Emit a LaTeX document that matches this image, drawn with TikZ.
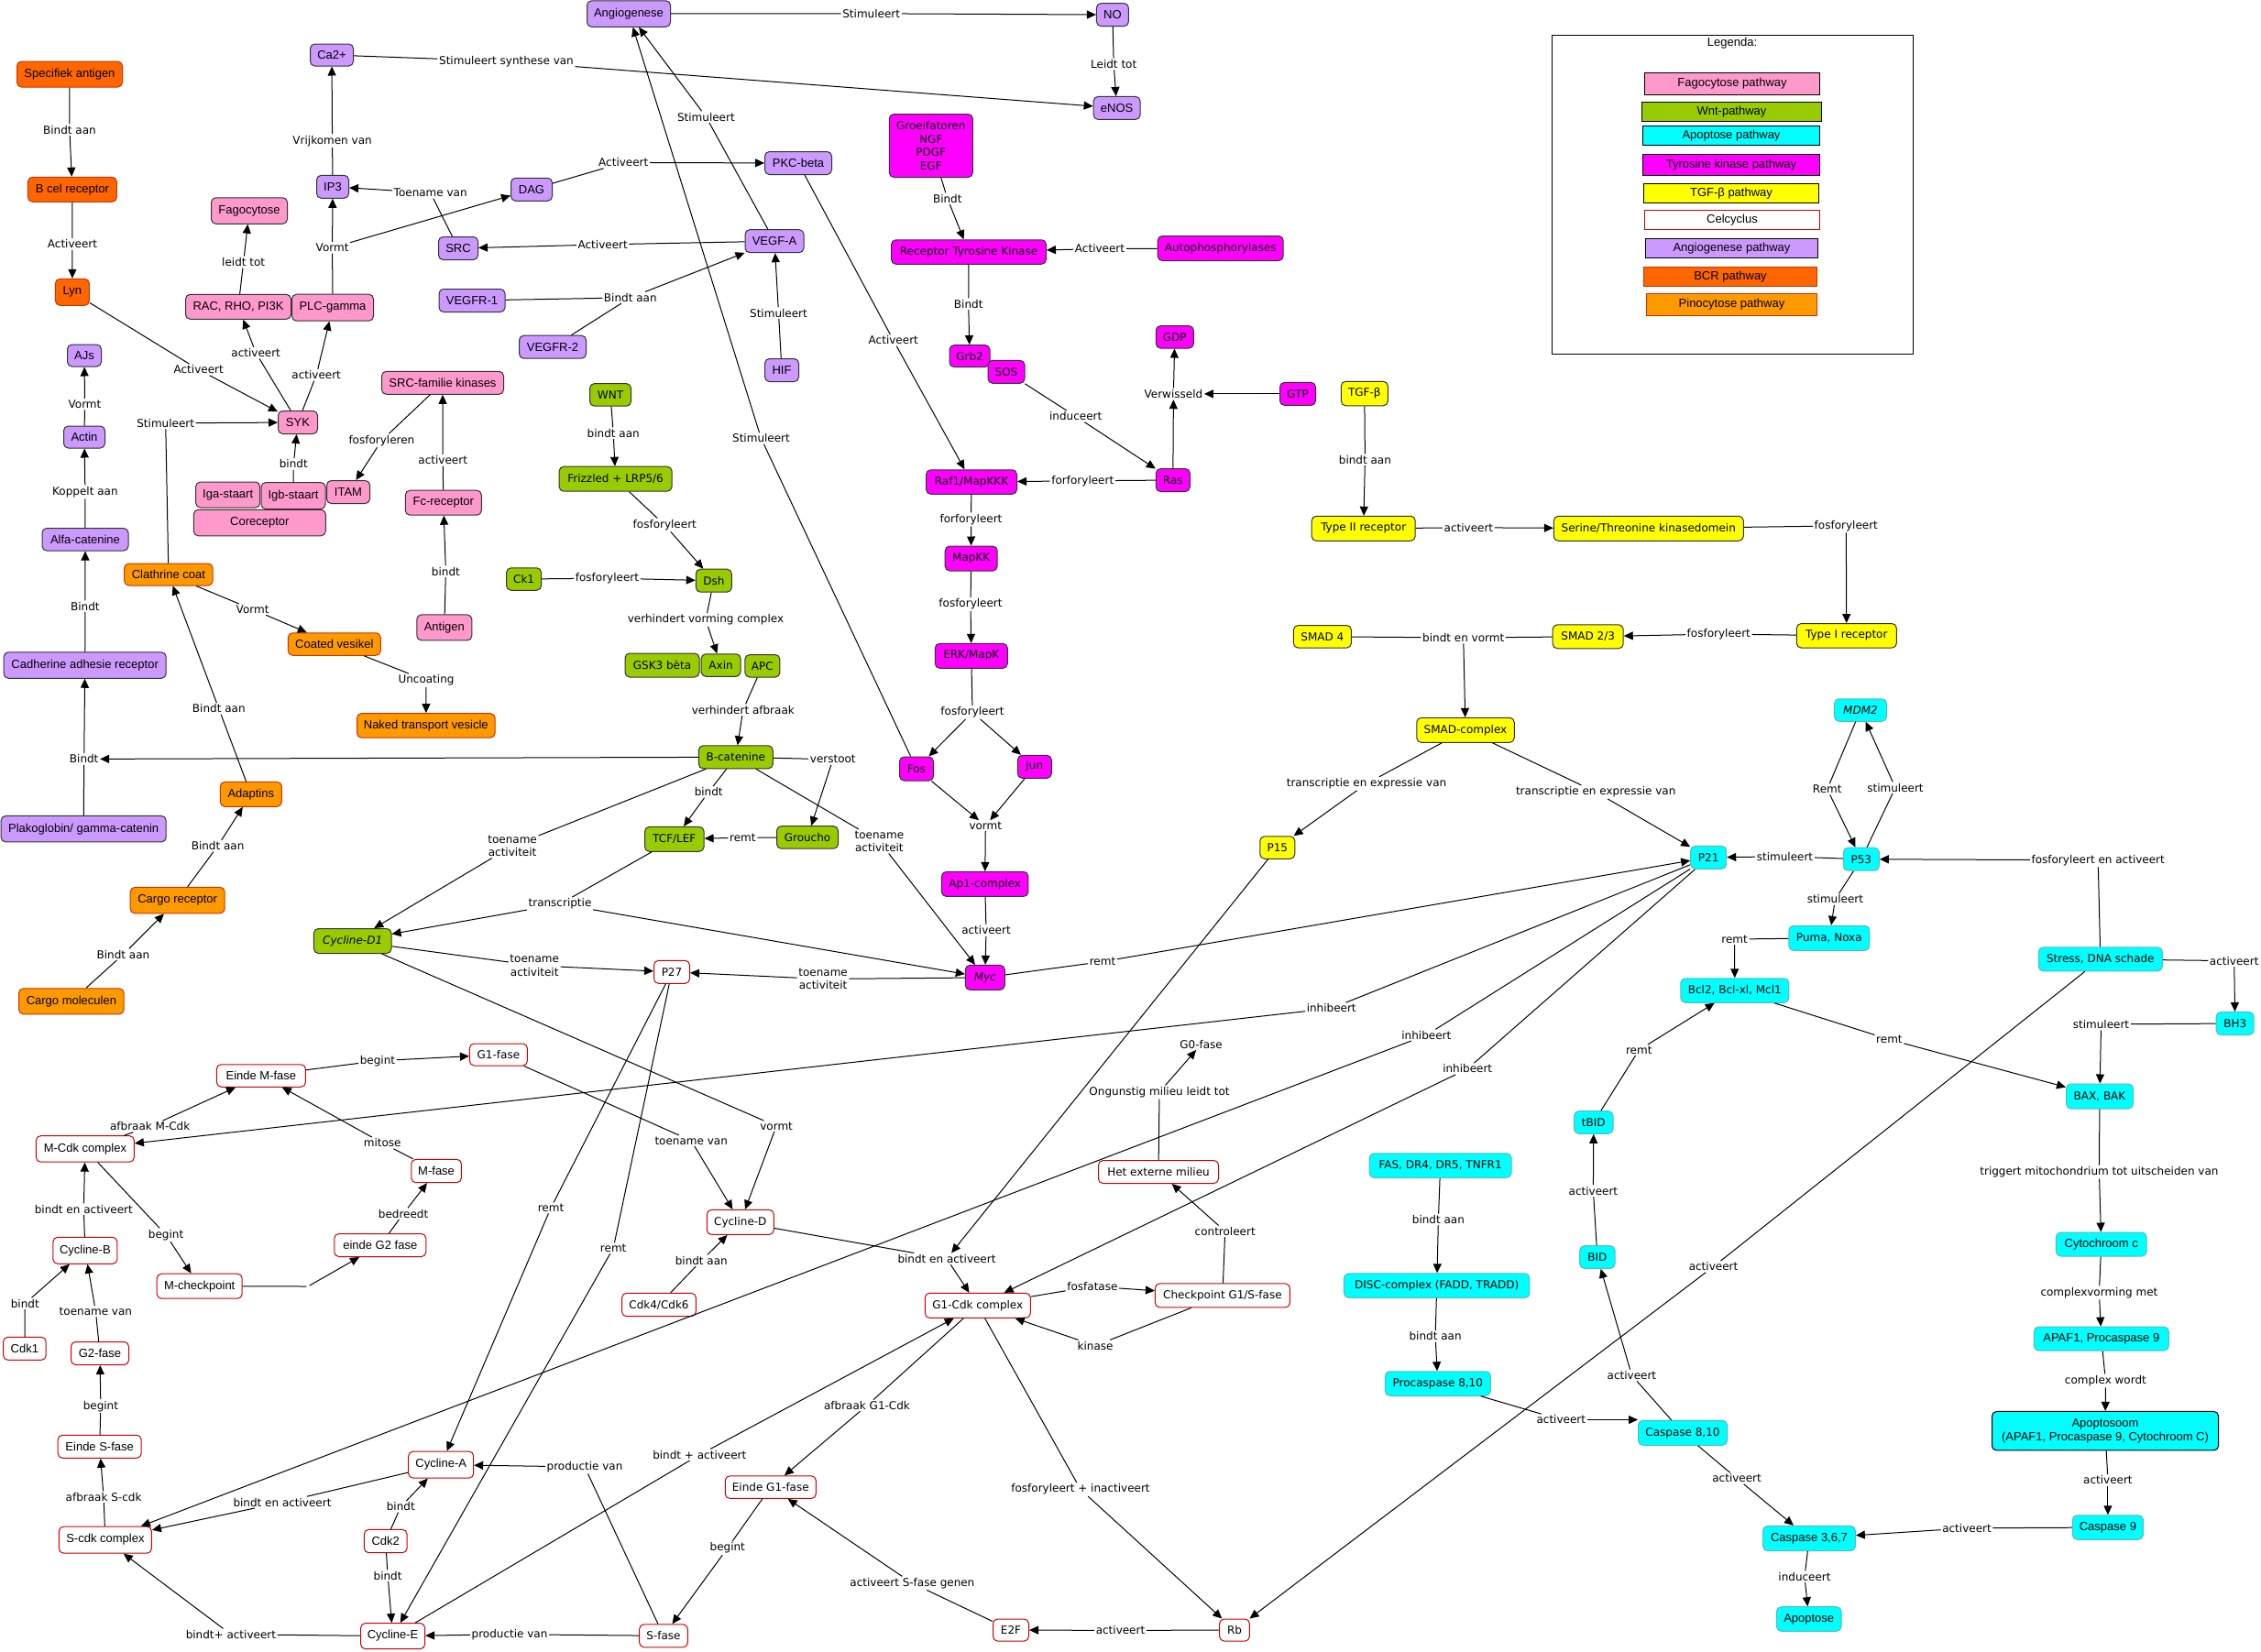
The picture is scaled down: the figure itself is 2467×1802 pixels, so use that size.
\documentclass[tikz,border=0pt]{standalone}
\usepackage{fontspec}
\setmainfont{DejaVu Sans}
\newfontfamily\arialf{Liberation Sans}
\usetikzlibrary{arrows.meta}
\definecolor{cBCR}{HTML}{FF6600}
\definecolor{cBCRb}{HTML}{CC3300}
\definecolor{cPino}{HTML}{FF9900}
\definecolor{cFago}{HTML}{FF99CC}
\definecolor{cAngio}{HTML}{CC99FF}
\definecolor{cWnt}{HTML}{99CC00}
\definecolor{cTK}{HTML}{FF00FF}
\definecolor{cTGF}{HTML}{FFFF00}
\definecolor{cApo}{HTML}{00FFFF}
\definecolor{cApob}{HTML}{55BBBB}
\definecolor{cCC}{HTML}{CC0000}
\definecolor{cDark}{HTML}{333333}
\newcommand\mynode[7]{\node[#1,minimum width=#5pt,minimum height=#6pt] (#2) at (#3,#4) {#7};}
\newcommand\mylab[4]{\node[sLab] (#1) at (#2,#3) {#4};}
\newcommand\myL[3]{\draw[sLn] (#1) -- (#2); \draw[sArr] (#2) -- (#3);}
\newcommand\myP[2]{\draw[sLn] (#1) -- (#2);}
\newcommand\myA[2]{\draw[sArr] (#1) -- (#2);}
\begin{document}
\begin{tikzpicture}[x=1pt,y=-1pt,
 sBase/.style={draw, rounded corners=5pt, line width=1pt, inner sep=2pt, align=center},
 fA/.style={font=\arialf\fontsize{13}{15}\selectfont},
 fV/.style={font=\fontsize{12}{14.8}\selectfont},
 sBcr/.style={sBase,fA,fill=cBCR,draw=cBCRb},
 sPino/.style={sBase,fA,fill=cPino,draw=cBCRb},
 sFago/.style={sBase,fA,fill=cFago,draw=cDark},
 sAngio/.style={sBase,fA,fill=cAngio,draw=cDark},
 sWnt/.style={sBase,fV,fill=cWnt,draw=cDark},
 sTk/.style={sBase,fV,fill=cTK,draw=cDark},
 sTgf/.style={sBase,fV,fill=cTGF,draw=cDark},
 sApo/.style={sBase,fV,fill=cApo,draw=cApob},
 sApoA/.style={sBase,fA,fill=cApo,draw=cApob},
 sCc/.style={sBase,fV,fill=white,draw=cCC},
 sCcA/.style={sBase,fA,fill=white,draw=cCC},
 sLab/.style={inner sep=1.5pt, align=center, font=\fontsize{12}{14.6}\selectfont},
 sLn/.style={line width=1pt},
 sArr/.style={line width=1pt, -{Triangle[length=10pt,width=9pt]}},
 sLeg/.style={draw, line width=1.2pt, fA, inner sep=1pt},
]
\fill[white] (0,0) rectangle (2467,1802);
\useasboundingbox (0,0) rectangle (2467,1802);

% ---------- Legend ----------
\draw[line width=1pt] (1693.5,38.1) rectangle (2087.4,386.3);
\node[fA] (legt) at (1890,47.1) {Legenda:};
\node[sLeg,fill=cFago,minimum width=191pt,minimum height=24pt] (lg1) at (1890,91.4) {Fagocytose pathway};
\node[sLeg,fill=cWnt,minimum width=196pt,minimum height=21pt] (lg2) at (1889.5,122.2) {Wnt-pathway};
\node[sLeg,fill=cApo,minimum width=193pt,minimum height=21pt] (lg3) at (1889,147.8) {Apoptose pathway};
\node[sLeg,fill=cTK,minimum width=193pt,minimum height=23pt] (lg4) at (1889,180) {Tyrosine kinase pathway};
\node[sLeg,fill=cTGF,minimum width=191pt,minimum height=21pt] (lg5) at (1889,210.9) {TGF-β pathway};
\node[sLeg,fill=white,draw=cCC,minimum width=191pt,minimum height=21pt] (lg6) at (1890,240) {Celcyclus};
\node[sLeg,fill=cAngio,minimum width=188pt,minimum height=21pt] (lg7) at (1889.5,270.8) {Angiogenese pathway};
\node[sLeg,fill=cBCR,draw=cBCRb,minimum width=189pt,minimum height=21pt] (lg8) at (1888,301.9) {BCR pathway};
\node[sLeg,fill=cPino,draw=cBCRb,minimum width=186pt,minimum height=24pt] (lg9) at (1889.5,332.6) {Pinocytose pathway};

% ---------- BCR ----------
\mynode{sBcr}{sa}{76}{81}{115}{28}{Specifiek antigen}
\mynode{sBcr}{bcr}{78.9}{206.8}{97}{27}{B cel receptor}
\mynode{sBcr}{lyn}{78.9}{318.8}{37}{29}{Lyn}

% ---------- Angiogenese ----------
\mynode{sAngio}{ca}{362}{60}{47}{24}{Ca2+}
\mynode{sAngio}{ip3}{363}{203.8}{35}{25}{IP3}
\mynode{sAngio}{dag}{580}{206.8}{45}{25}{DAG}
\mynode{sAngio}{src}{500}{271}{43}{25}{SRC}
\mynode{sAngio}{vegfr1}{515}{328}{72}{25}{VEGFR-1}
\mynode{sAngio}{vegfr2}{603}{378.7}{73}{25}{VEGFR-2}
\mynode{sAngio}{vegfa}{845}{263.2}{64}{25}{VEGF-A}
\mynode{sAngio}{hif}{853}{404}{37}{25}{HIF}
\mynode{sAngio}{pkc}{871}{178}{73}{25}{PKC-beta}
\mynode{sAngio}{angio}{686}{15}{91}{28.5}{Angiogenese}
\mynode{sAngio}{no}{1213.9}{16.1}{35}{25}{NO}
\mynode{sAngio}{enos}{1218.6}{117.9}{51}{25}{eNOS}
\mynode{sAngio}{ajs}{92}{388}{37}{24}{AJs}
\mynode{sAngio}{actin}{92}{477}{45}{24}{Actin}
\mynode{sAngio}{alfa}{93}{588.8}{94}{24.5}{Alfa-catenine}
\mynode{sAngio}{cadh}{92.7}{726}{177}{28.5}{Cadherine adhesie receptor}
\mynode{sAngio}{plako}{91.2}{904.7}{180}{28.5}{Plakoglobin/ gamma-catenin}

% ---------- Fagocytose ----------
\mynode{sFago}{fago}{272}{230}{83}{28.5}{Fagocytose}
\mynode{sFago}{rac}{260}{334.8}{115}{27}{RAC, RHO, PI3K}
\mynode{sFago}{plc}{363}{335.7}{89}{29}{PLC-gamma}
\mynode{sFago}{syk}{325}{461}{43}{25}{SYK}
\mynode{sFago}{srcf}{483}{417.8}{133}{25}{SRC-familie kinases}
\mynode{sFago}{iga}{248.7}{540}{70}{28}{Iga-staart}
\mynode{sFago}{igb}{320}{541}{70}{29}{Igb-staart}
\mynode{sFago}{itam}{380}{537}{47}{25}{ITAM}
\mynode{sFago}{corec}{283.3}{570.5}{144}{28.5}{Coreceptor}
\mynode{sFago}{fc}{483.8}{548.7}{83}{27}{Fc-receptor}
\mynode{sFago}{antigen}{484.8}{684.9}{60}{28}{Antigen}

% ---------- Pinocytose ----------
\mynode{sPino}{clath}{183.9}{627}{96.5}{24}{Clathrine coat}
\mynode{sPino}{coated}{364.8}{703}{101}{24.5}{Coated vesikel}
\mynode{sPino}{naked}{464.8}{791.9}{150.6}{26.5}{Naked transport vesicle}
\mynode{sPino}{adapt}{273.8}{866.8}{67}{27}{Adaptins}
\mynode{sPino}{cargor}{193.7}{982.6}{103}{28.5}{Cargo receptor}
\mynode{sPino}{cargom}{77.9}{1092.8}{114.6}{28}{Cargo moleculen}

% ---------- Wnt ----------
\mynode{sWnt}{wnt}{666}{430.9}{45}{24.5}{WNT}
\mynode{sWnt}{friz}{671.6}{522.7}{123}{27}{Frizzled + LRP5/6}
\mynode{sWnt}{ck1}{571.6}{632}{38}{24.5}{Ck1}
\mynode{sWnt}{dsh}{778.8}{633.7}{39}{25}{Dsh}
\mynode{sWnt}{gsk}{722.5}{726}{81}{26}{GSK3 bèta}
\mynode{sWnt}{axin}{786.6}{726}{43}{24.5}{Axin}
\mynode{sWnt}{apc}{831.9}{726.8}{38}{24.5}{APC}
\mynode{sWnt}{bcat}{802.8}{826.3}{81}{25}{B-catenine}
\mynode{sWnt}{tcf}{735.8}{915.8}{64.5}{27}{TCF/LEF}
\mynode{sWnt}{grou}{881}{913.9}{67}{24.5}{Groucho}
\mynode{sWnt}{cyd1}{384.7}{1027}{84.6}{27}{\itshape Cycline-D1}

% ---------- Tyrosine kinase ----------
\mynode{sTk}{groei}{1015.8}{159}{91}{69}{Groeifatoren\\NGF\\PDGF\\EGF}
\mynode{sTk}{rtk}{1057}{275}{169}{26.5}{Receptor Tyrosine Kinase}
\mynode{sTk}{autop}{1331.7}{271}{137}{27}{Autophosphorylases}
\mynode{sTk}{grb2}{1058}{388.6}{44}{24}{Grb2}
\mynode{sTk}{sos}{1098}{405.8}{40}{25}{SOS}
\mynode{sTk}{gdp}{1281.8}{367.8}{41}{24.5}{GDP}
\mynode{sTk}{gtp}{1416}{429.9}{39}{25}{GTP}
\mynode{sTk}{ras}{1279.8}{524}{37}{25}{Ras}
\mynode{sTk}{raf}{1060}{526}{99}{26.5}{Raf1/MapKKK}
\mynode{sTk}{mapkk}{1059.7}{609.5}{57}{27}{MapKK}
\mynode{sTk}{erk}{1059.8}{715.8}{79}{27}{ERK/MapK}
\mynode{sTk}{fos}{1000}{839}{37}{26}{Fos}
\mynode{sTk}{jun}{1128.8}{836.8}{37}{25}{Jun}
\mynode{sTk}{ap1}{1074.7}{964.9}{94.5}{27}{Ap1-complex}
\mynode{sTk}{myc}{1074.8}{1066.9}{43}{27}{\itshape Myc}

% ---------- TGF-beta ----------
\mynode{sTgf}{tgfb}{1488.8}{429.5}{51}{26.5}{TGF-β}
\mynode{sTgf}{t2}{1487.7}{576.8}{113}{27}{Type II receptor}
\mynode{sTgf}{ser}{1798.8}{576.8}{207}{27}{Serine/Threonine kinasedomein}
\mynode{sTgf}{t1}{2014.8}{693.8}{109}{26.5}{Type I receptor}
\mynode{sTgf}{smad4}{1442.9}{694.8}{63}{24.5}{SMAD 4}
\mynode{sTgf}{smad23}{1732.7}{694.8}{77}{26}{SMAD 2/3}
\mynode{sTgf}{smadc}{1599}{796.8}{106.5}{27}{SMAD-complex}
\mynode{sTgf}{p15}{1393.8}{925}{38}{24.5}{P15}

% ---------- Apoptose ----------
\mynode{sApo}{p21}{1864.2}{935.8}{39}{25}{P21}
\mynode{sApo}{p53}{2030.8}{937.7}{39}{25}{P53}
\mynode{sApo}{mdm2}{2030}{775}{57}{24.5}{\itshape MDM2}
\mynode{sApo}{puma}{1995.8}{1023.8}{88}{27}{Puma, Noxa}
\mynode{sApo}{bcl2}{1892.8}{1081}{118}{26.5}{Bcl2, Bcl-xl, Mcl1}
\mynode{sApo}{stress}{2291.8}{1046.8}{135}{26}{Stress, DNA schade}
\mynode{sApo}{bh3}{2438.7}{1117}{41}{25}{BH3}
\mynode{sApo}{bax}{2291}{1196.5}{73}{27}{BAX, BAK}
\mynode{sApoA}{cyto}{2292.7}{1358}{98.6}{26}{Cytochroom c}
\mynode{sApoA}{apaf}{2292.8}{1461.1}{147}{26}{APAF1, Procaspase 9}
\node[sApoA,draw=black,minimum width=247pt,minimum height=42.5pt] (apopt) at (2297,1561.7) {Apoptosoom\\(APAF1, Procaspase 9, Cytochroom C)};
\mynode{sApoA}{casp9}{2299.9}{1667}{77}{26.5}{Caspase 9}
\mynode{sApoA}{casp3}{1974}{1679}{100.7}{27.3}{Caspase 3,6,7}
\mynode{sApoA}{apop}{1973.7}{1767}{70.6}{26.6}{Apoptose}
\mynode{sApo}{fas}{1571.6}{1272}{155}{26.5}{FAS, DR4, DR5, TNFR1}
\mynode{sApo}{disc}{1567.7}{1403.1}{202.5}{26.5}{DISC-complex (FADD, TRADD)}
\mynode{sApo}{proc}{1568.8}{1510}{115}{26.5}{Procaspase 8,10}
\mynode{sApo}{casp8}{1836}{1563.8}{97}{27}{Caspase 8,10}
\mynode{sApo}{bid}{1742.9}{1372}{38.4}{24.6}{BID}
\mynode{sApo}{tbid}{1738.8}{1225}{42.4}{24.6}{tBID}

% ---------- Celcyclus ----------
\mynode{sCc}{p27}{733}{1060.8}{39}{25}{P27}
\mynode{sCc}{g1f}{543.9}{1151}{63}{24}{G1-fase}
\mynode{sCcA}{emf}{284.9}{1174}{97}{24.5}{Einde M-fase}
\mynode{sCcA}{mcdk}{92.9}{1253.9}{107}{28.5}{M-Cdk complex}
\mynode{sCcA}{mf}{476.1}{1278}{54.6}{25.4}{M-fase}
\mynode{sCcA}{cycb}{92.9}{1364.8}{70}{29}{Cycline-B}
\mynode{sCcA}{eg2}{414.8}{1359}{100}{25}{einde G2 fase}
\mynode{sCcA}{mchk}{217.7}{1403.7}{93}{27}{M-checkpoint}
\mynode{sCcA}{cdk1}{26.9}{1471.8}{46.6}{25}{Cdk1}
\mynode{sCcA}{g2f}{109}{1477}{63}{25}{G2-fase}
\mynode{sCcA}{esf}{108.7}{1578.8}{91}{25}{Einde S-fase}
\mynode{sCcA}{cyca}{481.2}{1598.6}{71}{29}{Cycline-A}
\mynode{sCcA}{scdk}{114.9}{1680.6}{101}{29}{S-cdk complex}
\mynode{sCcA}{cdk2}{420.7}{1682}{46.6}{25.4}{Cdk2}
\mynode{sCcA}{cyce}{428.6}{1785.6}{70}{28}{Cycline-E}
\mynode{sCc}{cycd}{807.8}{1333.9}{73}{27}{Cycline-D}
\mynode{sCc}{cdk46}{719}{1424}{80.7}{25.4}{Cdk4/Cdk6}
\mynode{sCc}{g1cdk}{1066.8}{1424.8}{115}{27}{G1-Cdk complex}
\mynode{sCc}{eg1}{840.8}{1623.1}{99}{24.6}{Einde G1-fase}
\mynode{sCc}{sf}{724}{1785.3}{52.6}{25}{S-fase}
\mynode{sCc}{e2f}{1103}{1779}{39}{24}{E2F}
\mynode{sCc}{rb}{1347}{1779}{32.7}{24}{Rb}
\mynode{sCc}{hem}{1264}{1279}{131}{25}{Het externe milieu}
\mynode{sCc}{chk}{1333.9}{1413.9}{147}{26}{Checkpoint G1/S-fase}
\mylab{g0}{1310.6}{1139.6}{G0-fase}

% ---------- Labels ----------
\mylab{l1}{75.9}{141.6}{Bindt aan}
\mylab{l2}{79}{266.5}{Activeert}
\mylab{l3}{216.7}{403.4}{Activeert}
\mylab{l4}{279.2}{385.1}{activeert}
\mylab{l5}{345.2}{409.3}{activeert}
\mylab{l6}{265.7}{286}{leidt tot}
\mylab{l7}{362.6}{270.4}{Vormt}
\mylab{l8}{362.6}{153.7}{Vrijkomen van}
\mylab{l9}{469.7}{210.5}{Toename van}
\mylab{l10}{552.5}{66.9}{Stimuleert synthese van}
\mylab{l11}{950.7}{14.8}{Stimuleert}
\mylab{l12}{1215.2}{70}{Leidt tot}
\mylab{l13}{680.3}{177.4}{Activeert}
\mylab{l14}{770.4}{127.6}{Stimuleert}
\mylab{l15}{657.7}{266.9}{Activeert}
\mylab{l16}{687.8}{324.8}{Bindt aan}
\mylab{l17}{849.5}{341.6}{Stimuleert}
\mylab{l18}{974.8}{371.5}{Activeert}
\mylab{l19}{1033.8}{216.7}{Bindt}
\mylab{l20}{1200}{271.5}{Activeert}
\mylab{l21}{1056.7}{331.8}{Bindt}
\mylab{l22}{1173.7}{454.4}{induceert}
\mylab{l23}{1181.3}{524.8}{forforyleert}
\mylab{l24}{1280.4}{429.9}{Verwisseld}
\mylab{l25}{1059.5}{566.8}{forforyleert}
\mylab{l26}{1059}{659.6}{fosforyleert}
\mylab{l27}{1061}{777.4}{fosforyleert}
\mylab{l28}{1075.3}{901.2}{vormt}
\mylab{l29}{1076}{1015.5}{activeert}
\mylab{l30}{898.1}{1068.5}{toename\\activiteit}
\mylab{l31}{1203}{1049.5}{remt}
\mylab{l32}{830.5}{478.5}{Stimuleert}
\mylab{l33}{669.2}{472.7}{bindt aan}
\mylab{l34}{725.3}{573}{fosforyleert}
\mylab{l35}{662.5}{631.1}{fosforyleert}
\mylab{l36}{770}{676.6}{verhindert vorming complex}
\mylab{l37}{810.8}{774.7}{verhindert afbraak}
\mylab{l38}{908.8}{828.8}{verstoot}
\mylab{l39}{773.2}{864.4}{bindt}
\mylab{l40}{810.4}{914.2}{remt}
\mylab{l41}{959.4}{918.2}{toename\\activiteit}
\mylab{l42}{559.1}{923.3}{toename\\activiteit}
\mylab{l43}{611}{986.6}{transcriptie}
\mylab{l44}{583.2}{1053.8}{toename\\activiteit}
\mylab{l45}{91.7}{828.4}{Bindt}
\mylab{l46}{92.9}{661.6}{Bindt}
\mylab{l47}{92.9}{536.9}{Koppelt aan}
\mylab{l48}{92.5}{441.2}{Vormt}
\mylab{l49}{180.7}{461.8}{Stimuleert}
\mylab{l50}{275.6}{665.1}{Vormt}
\mylab{l51}{465}{742.6}{Uncoating}
\mylab{l52}{238.8}{773.5}{Bindt aan}
\mylab{l53}{237.6}{923.3}{Bindt aan}
\mylab{l54}{134.4}{1041.6}{Bindt aan}
\mylab{l55}{320.3}{506.5}{bindt}
\mylab{l56}{416.4}{480.8}{fosforyleren}
\mylab{l57}{483.2}{502.2}{activeert}
\mylab{l58}{486.4}{623.6}{bindt}
\mylab{l59}{1489.4}{501.8}{bindt aan}
\mylab{l60}{1602.4}{575.8}{activeert}
\mylab{l61}{2014.3}{573.8}{fosforyleert}
\mylab{l62}{1875.3}{692}{fosforyleert}
\mylab{l63}{1596.7}{696}{bindt en vormt}
\mylab{l64}{1491}{855.3}{transcriptie en expressie van}
\mylab{l65}{1741.2}{864.4}{transcriptie en expressie van}
\mylab{l66}{1993.7}{861.3}{Remt}
\mylab{l67}{2068}{859.7}{stimuleert}
\mylab{l68}{1947.5}{934.8}{stimuleert}
\mylab{l69}{2289.2}{938.8}{fosforyleert en activeert}
\mylab{l70}{2002.4}{981.5}{stimuleert}
\mylab{l71}{1892.6}{1025}{remt}
\mylab{l72}{2437.7}{1048.7}{activeert}
\mylab{l73}{2292.5}{1117.9}{stimuleert}
\mylab{l74}{2061.4}{1134.5}{remt}
\mylab{l75}{1788.2}{1146}{remt}
\mylab{l76}{1869.5}{1382.4}{activeert}
\mylab{l77}{2290.4}{1279}{triggert mitochondrium tot uitscheiden van}
\mylab{l78}{2290.4}{1410.9}{complexvorming met}
\mylab{l79}{2297.4}{1506.9}{complex wordt}
\mylab{l80}{2299.9}{1615.5}{activeert}
\mylab{l81}{2146}{1667.8}{activeert}
\mylab{l82}{1969}{1720.8}{induceert}
\mylab{l83}{1895.1}{1613.5}{activeert}
\mylab{l84}{1780.4}{1501}{activeert}
\mylab{l85}{1738.4}{1299.7}{activeert}
\mylab{l86}{1569.4}{1330.9}{bindt aan}
\mylab{l87}{1566.1}{1458.5}{bindt aan}
\mylab{l88}{1703.3}{1549.5}{activeert}
\mylab{l89}{1452.7}{1100.5}{inhibeert}
\mylab{l90}{1556.3}{1129.7}{inhibeert}
\mylab{l91}{1601.2}{1166.5}{inhibeert}
\mylab{l92}{1033}{1373.8}{bindt en activeert}
\mylab{l93}{1265}{1192}{Ongunstig milieu leidt tot}
\mylab{l94}{1336.7}{1343.8}{controleert}
\mylab{l95}{1191.9}{1403.9}{fosfatase}
\mylab{l96}{1195.1}{1468.7}{kinase}
\mylab{l97}{1179}{1625.6}{fosforyleert + inactiveert}
\mylab{l98}{1222.5}{1779.4}{activeert}
\mylab{l99}{995.4}{1727.9}{activeert S-fase genen}
\mylab{l100}{946}{1533.9}{afbraak G1-Cdk}
\mylab{l101}{793.8}{1689.6}{begint}
\mylab{l102}{763.3}{1587.7}{bindt + activeert}
\mylab{l103}{638}{1601}{productie van}
\mylab{l104}{556}{1783.7}{productie van}
\mylab{l105}{601}{1318.4}{remt}
\mylab{l106}{669.2}{1362.1}{remt}
\mylab{l107}{847.1}{1229}{vormt}
\mylab{l108}{754.2}{1245}{toename van}
\mylab{l109}{765.3}{1375.8}{bindt aan}
\mylab{l110}{412}{1157.8}{begint}
\mylab{l111}{163.7}{1229.4}{afbraak M-Cdk}
\mylab{l112}{417.2}{1247.4}{mitose}
\mylab{l113}{91.3}{1319.6}{bindt en activeert}
\mylab{l114}{181.1}{1347.7}{begint}
\mylab{l115}{440.1}{1324.7}{bedreedt}
\mylab{l116}{336}{1404}{}
\mylab{l117}{27.3}{1422.6}{bindt}
\mylab{l118}{104.4}{1431.2}{toename van}
\mylab{l119}{109.9}{1534.7}{begint}
\mylab{l120}{113.1}{1633.8}{afbraak S-cdk}
\mylab{l121}{308}{1639.6}{bindt en activeert}
\mylab{l122}{437.3}{1644.3}{bindt}
\mylab{l123}{423.1}{1719.7}{bindt}
\mylab{l124}{251.9}{1783.7}{bindt+ activeert}

% ---------- Connectors ----------
\myL{sa}{l1}{bcr}
\myL{bcr}{l2}{lyn}
\myL{lyn}{l3}{syk}
\myL{syk}{l4}{rac}
\myL{syk}{l5}{plc}
\myL{rac}{l6}{fago}
\myP{plc}{l7} \myA{l7}{ip3} \myA{l7}{dag}
\myL{ip3}{l8}{ca}
\myL{src}{l9}{ip3}
\myL{ca}{l10}{enos}
\myL{angio}{l11}{no}
\myL{no}{l12}{enos}
\myL{dag}{l13}{pkc}
\myL{vegfa}{l14}{angio}
\myL{vegfa}{l15}{src}
\myP{vegfr1}{l16} \myP{vegfr2}{l16} \myA{l16}{vegfa}
\myL{hif}{l17}{vegfa}
\myL{pkc}{l18}{raf}
\myL{groei}{l19}{rtk}
\myL{autop}{l20}{rtk}
\myL{rtk}{l21}{grb2}
\myL{sos}{l22}{ras}
\myL{ras}{l23}{raf}
\myA{ras}{l24} \myA{gtp}{l24} \myA{l24}{gdp}
\myL{raf}{l25}{mapkk}
\myL{mapkk}{l26}{erk}
\myP{erk}{l27} \myA{l27}{fos} \myA{l27}{jun}
\myA{fos}{l28} \myA{jun}{l28} \myA{l28}{ap1}
\myL{ap1}{l29}{myc}
\myL{myc}{l30}{p27}
\myL{myc}{l31}{p21}
\myL{fos}{l32}{angio}
\myL{wnt}{l33}{friz}
\myL{friz}{l34}{dsh}
\myL{ck1}{l35}{dsh}
\myL{dsh}{l36}{axin}
\myL{apc}{l37}{bcat}
\myL{bcat}{l38}{grou}
\myL{bcat}{l39}{tcf}
\myL{grou}{l40}{tcf}
\myL{bcat}{l41}{myc}
\myL{bcat}{l42}{cyd1}
\myP{tcf}{l43} \myA{l43}{cyd1} \myA{l43}{myc}
\myL{cyd1}{l44}{p27}
\myA{bcat}{l45} \myP{plako}{l45} \myA{l45}{cadh}
\myL{cadh}{l46}{alfa}
\myL{alfa}{l47}{actin}
\myL{actin}{l48}{ajs}
\myL{clath}{l49}{syk}
\myL{clath}{l50}{coated}
\myL{coated}{l51}{naked}
\myL{adapt}{l52}{clath}
\myL{cargor}{l53}{adapt}
\myL{cargom}{l54}{cargor}
\myL{igb}{l55}{syk}
\myL{srcf}{l56}{itam}
\myL{fc}{l57}{srcf}
\myL{antigen}{l58}{fc}
\myL{tgfb}{l59}{t2}
\myL{t2}{l60}{ser}
\myL{ser}{l61}{t1}
\myL{t1}{l62}{smad23}
\myP{smad4}{l63} \myP{smad23}{l63} \myA{l63}{smadc}
\myL{smadc}{l64}{p15}
\myL{smadc}{l65}{p21}
\myL{mdm2}{l66}{p53}
\myL{p53}{l67}{mdm2}
\myL{p53}{l68}{p21}
\myL{stress}{l69}{p53}
\myL{p53}{l70}{puma}
\myL{puma}{l71}{bcl2}
\myL{stress}{l72}{bh3}
\myL{bh3}{l73}{bax}
\myL{bcl2}{l74}{bax}
\myL{tbid}{l75}{bcl2}
\myL{stress}{l76}{rb}
\myL{bax}{l77}{cyto}
\myL{cyto}{l78}{apaf}
\myL{apaf}{l79}{apopt}
\myL{apopt}{l80}{casp9}
\myL{casp9}{l81}{casp3}
\myL{casp3}{l82}{apop}
\myL{casp8}{l83}{casp3}
\myL{casp8}{l84}{bid}
\myL{bid}{l85}{tbid}
\myL{fas}{l86}{disc}
\myL{disc}{l87}{proc}
\myP{proc}{l88} \draw[sArr] (l88) -- (l88 -| casp8.west);
\myL{p21}{l89}{mcdk}
\myL{p21}{l90}{scdk}
\myL{p21}{l91}{g1cdk}
\myA{p15}{l92} \myP{cycd}{l92} \myA{l92}{g1cdk}
\myL{hem}{l93}{g0}
\myL{chk}{l94}{hem}
\myL{g1cdk}{l95}{chk}
\myL{chk}{l96}{g1cdk}
\myL{g1cdk}{l97}{rb}
\myL{rb}{l98}{e2f}
\myL{e2f}{l99}{eg1}
\myL{g1cdk}{l100}{eg1}
\myL{eg1}{l101}{sf}
\myL{cyce}{l102}{g1cdk}
\myL{sf}{l103}{cyca}
\myL{sf}{l104}{cyce}
\myP{p27}{l105} \myA{l105}{cyca}
\myP{p27}{l106} \myA{l106}{cyce}
\myL{cyd1}{l107}{cycd}
\myL{g1f}{l108}{cycd}
\myL{cdk46}{l109}{cycd}
\myL{emf}{l110}{g1f}
\myL{mcdk}{l111}{emf}
\myL{mf}{l112}{emf}
\myL{cycb}{l113}{mcdk}
\myL{mcdk}{l114}{mchk}
\myL{eg2}{l115}{mf}
\myL{mchk}{l116}{eg2}
\myL{cdk1}{l117}{cycb}
\myL{g2f}{l118}{cycb}
\myL{esf}{l119}{g2f}
\myL{scdk}{l120}{esf}
\myL{cyca}{l121}{scdk}
\myL{cdk2}{l122}{cyca}
\myL{cdk2}{l123}{cyce}
\myL{cyce}{l124}{scdk}
\end{tikzpicture}
\end{document}
